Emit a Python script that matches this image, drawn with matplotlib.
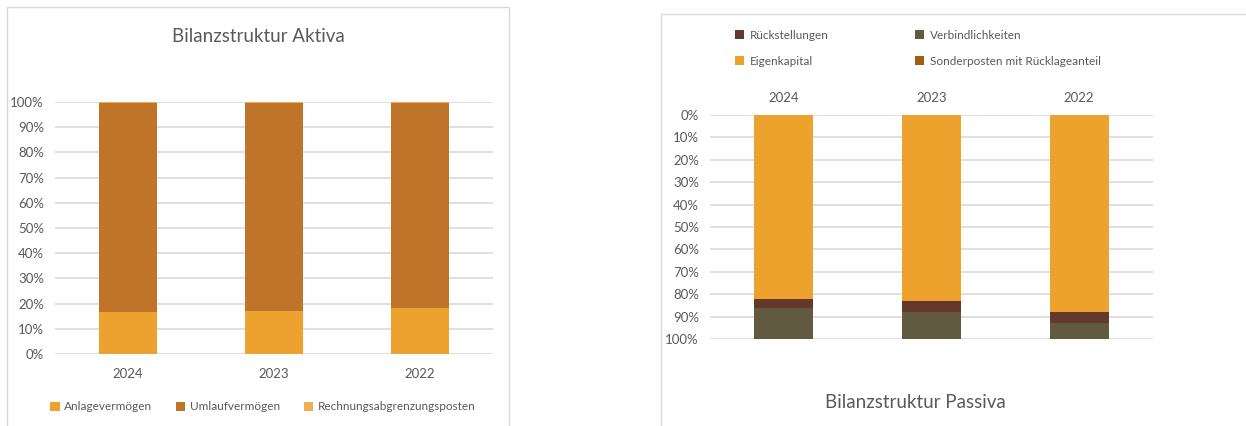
import matplotlib.pyplot as plt
import matplotlib.patches as mpatches
from matplotlib.ticker import PercentFormatter

plt.rcParams['font.family'] = ['Lato', 'DejaVu Sans']

years = ["2024", "2023", "2022"]

# Aktiva (percent)
anlagevermoegen = [16.5, 17.2, 18.1]
rechnungsabgrenzung = [0.2, 0.2, 0.2]
umlaufvermoegen = [100 - a - r for a, r in zip(anlagevermoegen, rechnungsabgrenzung)]

# Passiva (percent)
eigenkapital = [82.2, 83.2, 88.1]
sonderposten = [0.0, 0.0, 0.0]
rueckstellungen = [3.9, 4.9, 4.9]
verbindlichkeiten = [100 - e - s - r for e, s, r in zip(eigenkapital, sonderposten, rueckstellungen)]

W, H = 1246, 426
text_col = "#595959"
grid_col = "#D9D9D9"

fig = plt.figure(figsize=(W / 100, H / 100), dpi=100)


def px_axes(x0, y0, x1, y1):
    return fig.add_axes([x0 / W, 1 - y1 / H, (x1 - x0) / W, (y1 - y0) / H])


def style(ax):
    for s in ax.spines.values():
        s.set_visible(False)
    ax.set_axisbelow(True)
    ax.yaxis.grid(True, color=grid_col, linewidth=1.2)
    ax.tick_params(length=0, colors=text_col, labelsize=9.5)
    ax.tick_params(axis="y", pad=8)
    ax.yaxis.set_major_formatter(PercentFormatter(decimals=0))
    ax.set_yticks(range(0, 101, 10))
    ax.set_ylim(0, 100)
    ax.set_xlim(-0.5, 2.5)


# chart frames
fig.patches.append(mpatches.Rectangle((7 / W, 1 - 440 / H), 502 / W, 433 / H,
                                      transform=fig.transFigure, fill=False,
                                      edgecolor=grid_col, linewidth=1))
fig.patches.append(mpatches.Rectangle((661 / W, 1 - 440 / H), 600 / W, 426 / H,
                                      transform=fig.transFigure, fill=False,
                                      edgecolor=grid_col, linewidth=1))

x = range(len(years))
bw = 0.4

# left chart: Aktiva
ax1 = px_axes(55, 102, 493, 354)
style(ax1)
c_av, c_uv, c_rap = "#EDA22F", "#C07429", "#F2AE4C"
b1 = ax1.bar(x, anlagevermoegen, bw, color=c_av)
b2 = ax1.bar(x, umlaufvermoegen, bw, bottom=anlagevermoegen, color=c_uv)
bot = [a + u for a, u in zip(anlagevermoegen, umlaufvermoegen)]
b3 = ax1.bar(x, rechnungsabgrenzung, bw, bottom=bot, color=c_rap)
ax1.set_xticks(list(x), years)
ax1.tick_params(axis="x", pad=10)
fig.text(258 / W, 1 - 37 / H, "Bilanzstruktur Aktiva", ha="center", va="center",
         fontsize=13.5, color=text_col)
fig.legend([b1, b2, b3], ["Anlagevermögen", "Umlaufvermögen", "Rechnungsabgrenzungsposten"],
           loc="center", bbox_to_anchor=(263 / W, 1 - 407 / H), ncol=3, frameon=False,
           fontsize=8.5, labelcolor=text_col, handlelength=0.8, handleheight=0.8,
           handletextpad=0.4, columnspacing=2.0)

# right chart: Passiva (shown mirrored: 0% at top)
ax2 = px_axes(710, 115, 1153, 339)
style(ax2)
ax2.set_ylim(100, 0)
c_ek, c_sp, c_rs, c_vb = "#EDA22E", "#9E5F0C", "#64392B", "#615940"
p1 = ax2.bar(x, eigenkapital, bw, color=c_ek)
p2 = ax2.bar(x, sonderposten, bw, bottom=eigenkapital, color=c_sp)
bot2 = [e + s for e, s in zip(eigenkapital, sonderposten)]
p3 = ax2.bar(x, rueckstellungen, bw, bottom=bot2, color=c_rs)
bot3 = [b + r for b, r in zip(bot2, rueckstellungen)]
p4 = ax2.bar(x, verbindlichkeiten, bw, bottom=bot3, color=c_vb)
ax2.set_xticks(list(x), years)
ax2.xaxis.tick_top()
ax2.tick_params(axis="x", pad=8)
fig.text(915 / W, 1 - 403 / H, "Bilanzstruktur Passiva", ha="center", va="center",
         fontsize=13.5, color=text_col)
fig.legend([p3, p1, p4, p2],
           ["Rückstellungen", "Eigenkapital", "Verbindlichkeiten", "Sonderposten mit Rücklageanteil"],
           loc="upper left", bbox_to_anchor=(724 / W, 1 - 19 / H), ncol=2, frameon=False,
           fontsize=8.5, labelcolor=text_col, handlelength=0.8, handleheight=0.8,
           handletextpad=0.5, columnspacing=7.3, labelspacing=1.3)

fig.savefig("out.png", dpi=100)
